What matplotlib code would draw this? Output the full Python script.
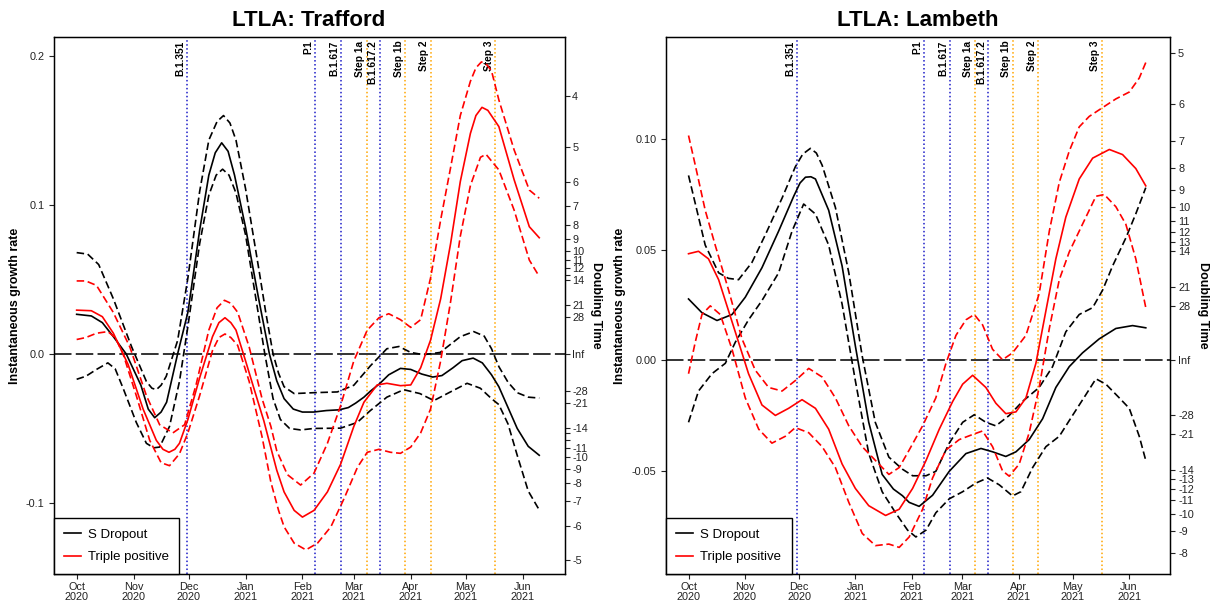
import numpy as np
import matplotlib
matplotlib.use('Agg')
import matplotlib.pyplot as plt

plt.rcParams['font.family'] = ['Liberation Sans', 'DejaVu Sans']
plt.rcParams['axes.unicode_minus'] = False

# day 0 = 1 Oct 2020
origin = np.datetime64('2020-10-01')
month_starts = ['2020-10-01', '2020-11-01', '2020-12-01', '2021-01-01', '2021-02-01',
                '2021-03-01', '2021-04-01', '2021-05-01', '2021-06-01']
month_labels = ['Oct\n2020', 'Nov\n2020', 'Dec\n2020', 'Jan\n2021', 'Feb\n2021',
                'Mar\n2021', 'Apr\n2021', 'May\n2021', 'Jun\n2021']

# variant arrivals (blue) and lockdown steps (orange)
event_labels = ['B.1.351', 'P.1', 'B.1.617', 'Step 1a', 'B.1.617.2', 'Step 1b', 'Step 2', 'Step 3']
event_dates = ['2020-11-30', '2021-02-08', '2021-02-22', '2021-03-08', '2021-03-15',
               '2021-03-29', '2021-04-12', '2021-05-17']
event_kind = ['variant', 'variant', 'variant', 'step', 'variant', 'step', 'step', 'step']

doubling_times = [4, 5, 6, 7, 8, 9, 10, 11, 12, 13, 14, 21, 28]

# ---- Trafford (day, growth rate) ----
traf_sd_mid = [(0, 0.0266), (8, 0.0255), (14, 0.021), (20, 0.0116), (27, 0.0), (35, -0.021),
               (39, -0.037), (42.5, -0.0428), (46, -0.039), (49, -0.0324), (55, 0.0), (60.6, 0.028),
               (67, 0.083), (72, 0.120), (75.5, 0.135), (79, 0.1417), (82.5, 0.136), (86, 0.12),
               (92, 0.085), (99, 0.038), (105, 0.0), (109, -0.018),
               (113, -0.03), (118, -0.037), (123, -0.039), (129, -0.039), (136, -0.038),
               (143, -0.0375), (148, -0.036), (152, -0.033), (156.5, -0.029), (160, -0.025),
               (165, -0.02), (170, -0.014), (176.4, -0.0097), (182, -0.0104), (188, -0.0135),
               (194, -0.0155), (199, -0.0145), (205, -0.0093), (210, -0.0045), (216, -0.0028),
               (221, -0.006), (226, -0.014), (230, -0.022), (235, -0.036), (240, -0.05),
               (246, -0.062), (252, -0.068)]
traf_sd_hi = [(0, 0.068), (6, 0.067), (12, 0.06), (20, 0.037), (30, 0.0046), (38, -0.0185),
              (41, -0.023), (43.4, -0.024), (46, -0.021), (48.8, -0.015), (55, 0.009), (60.6, 0.051),
              (67, 0.109), (72, 0.1435), (76.5, 0.156), (80, 0.16), (83.5, 0.155), (86.8, 0.1435),
              (92, 0.111), (99.5, 0.055), (103, 0.028), (107, 0.0),
              (110, -0.013), (113, -0.022), (118.5, -0.0266), (129.3, -0.026), (142, -0.0255),
              (151, -0.021), (160, -0.008), (169, 0.0035), (175.6, 0.005), (182, 0.001),
              (189, -0.0005), (198, 0.001), (209, 0.0116), (216.3, 0.015), (222, 0.012),
              (226, 0.0035), (230, -0.0085), (235, -0.019), (240, -0.026), (246, -0.029),
              (252, -0.0296)]
traf_sd_lo = [(0, -0.017), (5, -0.015), (10.8, -0.0104), (17, -0.006), (21, -0.01), (25.3, -0.023),
              (32.5, -0.046), (38, -0.060), (42, -0.063), (45.2, -0.0625), (50.6, -0.0486),
              (56, -0.0185), (60.6, 0.0185), (67, 0.074), (72, 0.1065), (76, 0.12), (79.5, 0.124),
              (83, 0.12), (86.8, 0.108),
              (92, 0.08), (97, 0.042), (102.5, 0.0), (107, -0.03), (111, -0.044), (116, -0.05),
              (122, -0.051), (129.3, -0.050), (143.8, -0.0498), (152.8, -0.046), (160, -0.038),
              (169, -0.029), (178.2, -0.024), (187, -0.0266), (194.6, -0.0313), (203.6, -0.0255),
              (212.7, -0.0197), (219.9, -0.023), (226, -0.030), (230, -0.034), (235, -0.047),
              (240, -0.068), (246, -0.092), (252, -0.1047)]
traf_tp_mid = [(0, 0.0294), (8, 0.029), (14, 0.025), (20, 0.0139), (28, -0.007), (36.2, -0.037),
               (43.4, -0.058), (47, -0.064), (50.3, -0.066), (53.5, -0.064), (56, -0.060),
               (60.6, -0.044), (67, -0.016), (74, 0.0116), (77.5, 0.021),
               (80.8, 0.0243), (84, 0.021), (86.8, 0.016), (92, -0.0046), (99.5, -0.035), (102, -0.045),
               (105.8, -0.063), (109, -0.078), (113, -0.0926), (118.5, -0.105), (123, -0.1095),
               (129.3, -0.105), (136.6, -0.0926), (143.8, -0.074), (151, -0.0486), (156.5, -0.0324),
               (163.7, -0.0208), (169, -0.0197), (176.4, -0.0213), (182, -0.0208), (187.4, -0.0093),
               (192.8, 0.0093), (198.3, 0.037), (203.7, 0.074), (209, 0.1157), (214.5, 0.148),
               (217.5, 0.160), (220.8, 0.1655), (224, 0.1635), (230, 0.1526), (238.3, 0.117),
               (246.6, 0.0854), (252, 0.078)]
traf_tp_hi = [(0, 0.049), (5, 0.049), (10.8, 0.046), (19.9, 0.028), (29, 0.0046), (38, -0.028),
              (45.2, -0.0475), (52.4, -0.053), (58.8, -0.0475), (65, -0.021), (72, 0.016),
              (76.5, 0.031), (80.5, 0.036), (84, 0.034), (87.7, 0.028), (94, 0.0046), (101, -0.030),
              (105.8, -0.0486), (109, -0.065), (114.8, -0.081), (122, -0.088), (129.3, -0.080),
              (136.6, -0.060), (143.8, -0.0347), (151, -0.0046), (158.3, 0.016), (164.7, 0.0243),
              (170, 0.027), (176.4, 0.023), (182, 0.0178), (187.4, 0.023), (192.8, 0.051),
              (198.3, 0.090), (203.7, 0.125), (209, 0.160), (214.5, 0.183), (217.5, 0.192),
              (220.5, 0.196), (223.5, 0.194), (226, 0.19), (230, 0.1705), (238.3, 0.137),
              (246.6, 0.110), (252, 0.1045)]
traf_tp_lo = [(0, 0.0097), (5, 0.011), (10.8, 0.0139), (17, 0.015), (21, 0.011), (25.3, 0.0),
              (32.5, -0.028), (39.8, -0.058), (46, -0.073), (50.6, -0.075), (56, -0.067),
              (60.6, -0.053), (67, -0.028), (74, 0.0023), (77.5, 0.011), (80.8, 0.0134), (84, 0.011),
              (87.7, 0.0058), (94, -0.0185), (101, -0.0556), (105.8, -0.086), (110, -0.105),
              (113, -0.116), (118.5, -0.127), (124.9, -0.1315), (131.2, -0.127), (138.5, -0.116),
              (145.7, -0.097), (153, -0.076), (158.3, -0.066), (164.7, -0.064), (171, -0.066),
              (176.4, -0.0667), (182, -0.0625), (187.4, -0.053), (192.8, -0.037), (198.3, -0.0046),
              (203.7, 0.035), (209, 0.079), (214.5, 0.113), (220, 0.132), (223, 0.134),
              (230, 0.1235), (238.3, 0.0966), (246.6, 0.063), (252, 0.052)]

# ---- Lambeth (day, growth rate) ----
lamb_sd_mid = [(0, 0.0277), (7.4, 0.0215), (15.7, 0.018), (24, 0.0207), (31.3, 0.0285),
               (40.5, 0.0418), (49.7, 0.0583), (58, 0.074), (61.5, 0.080), (64.5, 0.0826),
               (67.5, 0.0828), (70, 0.0818), (77.3, 0.0677), (84.7, 0.0426), (92, 0.0066),
               (99.4, -0.0279), (106.8, -0.0514), (113, -0.058), (118, -0.061), (121.7, -0.064),
               (127.2, -0.0658), (134.6, -0.0608), (143.8, -0.050), (153, -0.042), (161.3, -0.0397),
               (167.7, -0.0412), (175, -0.0433), (180.6, -0.0412), (187.9, -0.0357), (195.3, -0.0263),
               (202.6, -0.0122), (210, -0.0028), (217.3, 0.0034), (226.5, 0.0097), (235.7, 0.0144),
               (244.9, 0.0157), (252.2, 0.0147)]
lamb_sd_hi = [(0, 0.0834), (3.7, 0.0708), (9.2, 0.052), (16.6, 0.0395), (22, 0.037), (27.6, 0.0364),
              (35, 0.0442), (42.4, 0.0567), (51.6, 0.0732), (58.9, 0.0873), (63, 0.093),
              (67.2, 0.0956), (70.5, 0.0935), (73.7, 0.088), (81, 0.069), (88.4, 0.0395),
              (95.8, 0.0019), (103, -0.0279), (110.5, -0.0436), (117.9, -0.049), (123.6, -0.052),
              (131, -0.052), (136.4, -0.050), (143.8, -0.0373), (151.2, -0.0279), (157.6, -0.0245),
              (164, -0.0279), (169.5, -0.0295), (176.9, -0.0248), (184.2, -0.0185), (193.4, -0.0122),
              (200.8, -0.0028), (208.1, 0.0129), (215.5, 0.0207), (222.9, 0.0238), (228.4, 0.0317),
              (233.9, 0.0426), (241.2, 0.0552), (246.7, 0.0661), (252.2, 0.0779)]
lamb_sd_lo = [(0, -0.0279), (5.5, -0.0138), (12.9, -0.006), (20.3, -0.0013), (25.8, 0.0082),
              (33.1, 0.0183), (40.5, 0.027), (49.7, 0.0395), (57.1, 0.0583), (63.5, 0.0705),
              (70, 0.066), (77.3, 0.052), (84.7, 0.0254), (92, -0.0091), (99.4, -0.042),
              (106.8, -0.0592), (114.2, -0.0687), (120.8, -0.0765), (125.4, -0.0796), (131, -0.0765),
              (136.4, -0.0687), (143.8, -0.0624), (151.2, -0.0592), (158.5, -0.0553), (164.9, -0.053),
              (171.4, -0.0561), (178.7, -0.0611), (183.3, -0.0592), (189.8, -0.0483), (197.1, -0.0389),
              (204.5, -0.0342), (211.8, -0.0248), (219.2, -0.0154), (224.7, -0.0083), (230.2, -0.0107),
              (237.6, -0.0169), (243.1, -0.0216), (248.6, -0.0342), (252.2, -0.0451)]
lamb_tp_mid = [(0, 0.0481), (5.5, 0.0492), (11, 0.0458), (16.6, 0.0364), (22.1, 0.0223),
               (27.6, 0.0082), (33.1, -0.006), (40.5, -0.0201), (47.9, -0.0248), (55.2, -0.0216),
               (62.6, -0.0177), (70, -0.0216), (77.3, -0.031), (84.7, -0.0467), (92, -0.0577),
               (99.4, -0.0655), (108.7, -0.0699), (116.2, -0.0671), (123.6, -0.0577), (131, -0.0451),
               (138.3, -0.031), (145.7, -0.0185), (151.2, -0.0107), (156.7, -0.0067), (164, -0.0122),
               (169.5, -0.0193), (175, -0.024), (180.6, -0.0232), (186.1, -0.0169), (191.6, -0.0013),
               (197.1, 0.0223), (202.6, 0.0458), (208.1, 0.0646), (215.5, 0.0818), (222.9, 0.0912),
               (232.1, 0.0951), (239.4, 0.0928), (246.7, 0.0865), (252.2, 0.0787)]
lamb_tp_hi = [(0, 0.1014), (3.7, 0.0881), (9.2, 0.0677), (14.7, 0.052), (22.1, 0.0317),
              (29.5, 0.0097), (36.8, -0.0044), (44.2, -0.0122), (51.6, -0.0138), (58.9, -0.0091),
              (66.3, -0.0036), (73.7, -0.0075), (81, -0.0169), (88.4, -0.0295), (95.8, -0.0389),
              (103.1, -0.0451), (110.5, -0.0514), (116.2, -0.0483), (121.7, -0.0404), (129.1, -0.0295),
              (136.4, -0.0169), (142, -0.0013), (147.5, 0.0113), (153, 0.0183), (157.6, 0.0207),
              (162.2, 0.016), (167.7, 0.005), (173.2, 0.0003), (178.7, 0.0034), (186.1, 0.0113),
              (193.4, 0.0301), (199, 0.0583), (204.5, 0.0803), (210, 0.0944), (215.5, 0.1053),
              (221, 0.11), (228.4, 0.114), (235.7, 0.1179), (243.1, 0.121), (248.6, 0.1273),
              (252.2, 0.1343)]
lamb_tp_lo = [(0, -0.006), (3.7, 0.0082), (7.4, 0.0207), (12, 0.0246), (17.5, 0.0207), (24, 0.005),
              (31.3, -0.0169), (38.7, -0.031), (46, -0.0373), (53.4, -0.0342), (58.9, -0.0303),
              (66.3, -0.0326), (73.7, -0.0389), (81, -0.0483), (88.4, -0.064), (95.8, -0.078),
              (103.1, -0.0835), (110.5, -0.0828), (116.2, -0.0843), (121.7, -0.0796), (129.1, -0.0671),
              (134.6, -0.053), (142, -0.0404), (149.3, -0.0357), (156.7, -0.0334), (162.2, -0.0318),
              (167.7, -0.0389), (173.2, -0.0498), (176.9, -0.0522), (182.4, -0.0467), (187.9, -0.0326),
              (193.4, -0.0122), (199, 0.0144), (204.5, 0.0364), (210, 0.0489), (217.3, 0.0614),
              (224.7, 0.074), (229.3, 0.0748), (235.7, 0.0693), (241.2, 0.0614), (246.7, 0.0458),
              (252.2, 0.0238)]

traf_yticks = [-0.1, 0.0, 0.1, 0.2]
traf_ylabels = ['-0.1', '0.0', '0.1', '0.2']
lamb_yticks = [-0.05, 0.0, 0.05, 0.10]
lamb_ylabels = ['-0.05', '0.00', '0.05', '0.10']


def day(d):
    return (np.datetime64(d) - origin).astype(int)


def draw_panel(ax, title, sd, tp, ylim, yticks, ylabels, hidden):
    ax.set_xlim(-12.6, 265.8)
    ax.set_ylim(*ylim)

    for lab, d, k in zip(event_labels, event_dates, event_kind):
        col = '#1c1cc8' if k == 'variant' else '#ffa500'
        ax.axvline(day(d), color=col, lw=1.1, dashes=(1, 1.6), zorder=1)
        ax.annotate(lab, xy=(day(d), 1), xycoords=('data', 'axes fraction'),
                    xytext=(-1.2, -2.5), textcoords='offset points', rotation=90,
                    ha='right', va='top', fontsize=7.3, fontweight='bold')

    ax.axhline(0, color='#333333', lw=1.4, dashes=(9, 2.2), zorder=2)

    for series, col, name in [(sd, 'black', 'S Dropout'), (tp, 'red', 'Triple positive')]:
        mid, hi, lo = series
        x, y = zip(*mid)
        ax.plot(x, y, color=col, lw=1.2, label=name, zorder=3)
        for band in (hi, lo):
            x, y = zip(*band)
            ax.plot(x, y, color=col, lw=1.2, dashes=(4.5, 2.2), zorder=3)

    ax.set_title(title, fontsize=16, fontweight='bold', pad=8)
    ax.set_xticks([day(m) for m in month_starts])
    ax.set_xticklabels(month_labels, linespacing=1.0)
    ax.set_yticks(yticks)
    ax.set_yticklabels(ylabels)
    ax.tick_params(axis='x', length=3.5, width=0.8, labelsize=7.8, pad=2, colors='#222222')
    ax.tick_params(axis='y', length=3.5, width=0.8, labelsize=7.8, pad=3, colors='#222222')
    ax.set_ylabel('Instantaneous growth rate', fontsize=9, fontweight='bold')
    for s in ax.spines.values():
        s.set_linewidth(1.0)

    leg = ax.legend(loc='lower left', borderaxespad=0, fontsize=9.5, handlelength=1.3,
                    handletextpad=0.5, borderpad=0.8, labelspacing=0.8, fancybox=False,
                    framealpha=1, edgecolor='black')
    leg.get_frame().set_linewidth(1.0)

    # doubling time axis on the right
    ax2 = ax.twinx()
    ax2.set_ylim(*ylim)
    pos, labs = [], []
    for dt in doubling_times:
        for sign in (1, -1):
            r = sign * np.log(2) / dt
            if ylim[0] <= r <= ylim[1]:
                pos.append(r)
                labs.append('' if sign * dt in hidden else str(sign * dt))
    pos.append(0.0)
    labs.append('Inf')
    ax2.set_yticks(pos)
    ax2.set_yticklabels(labs)
    ax2.tick_params(axis='y', length=3.5, width=0.8, labelsize=7.8, pad=2, colors='#222222')
    ax2.set_ylabel('Doubling Time', fontsize=9, fontweight='bold', rotation=-90)
    return ax2


fig = plt.figure(figsize=(12.11, 6.08), dpi=100)
ax_l = fig.add_axes([0.0442, 0.0559, 0.4220, 0.8832])
ax_r = fig.add_axes([0.5497, 0.0559, 0.4168, 0.8832])

t2 = draw_panel(ax_l, 'LTLA: Trafford', (traf_sd_mid, traf_sd_hi, traf_sd_lo),
                (traf_tp_mid, traf_tp_hi, traf_tp_lo), (-0.1477, 0.2127),
                traf_yticks, traf_ylabels, {13, -13, -12})
l2 = draw_panel(ax_r, 'LTLA: Lambeth', (lamb_sd_mid, lamb_sd_hi, lamb_sd_lo),
                (lamb_tp_mid, lamb_tp_hi, lamb_tp_lo), (-0.0963, 0.1458),
                lamb_yticks, lamb_ylabels, set())

ax_l.yaxis.set_label_coords(-0.075, 0.5)
ax_r.yaxis.set_label_coords(-0.09, 0.5)
t2.yaxis.set_label_coords(1.062, 0.5)
l2.yaxis.set_label_coords(1.064, 0.5)
for a in (ax_l, ax_r, t2, l2):
    a.yaxis.label.set_va('center')
    a.yaxis.label.set_ha('center')

fig.savefig('out.png', dpi=100)
